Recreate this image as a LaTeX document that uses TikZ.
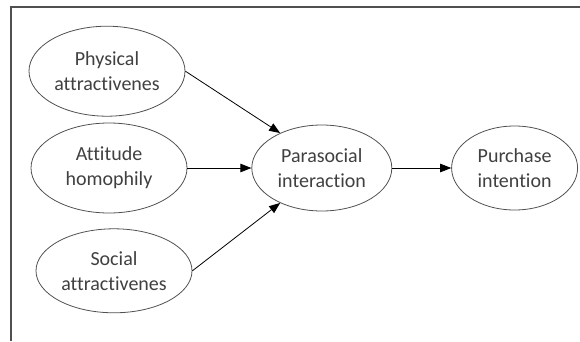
\documentclass[tikz,border=0pt]{standalone}
\usepackage{fontspec}
\setmainfont{Carlito}[Ligatures={NoCommon,NoContextual}]
\usepackage{xcolor}
\usepackage{tikz}
\usetikzlibrary{arrows.meta,positioning,shapes.geometric}
\definecolor{textgray}{RGB}{64,64,64}
\definecolor{linegray}{RGB}{80,80,80}

\begin{document}
\begin{tikzpicture}[
  x=1pt, y=1pt,
  node distance=6pt and 64pt,
  oval/.style={ellipse, draw=linegray, line width=0.8pt, inner sep=0pt, minimum width=156pt, minimum height=90pt, align=center, text=textgray, font=\fontsize{20}{25}\selectfont},
  arrow/.style={-{Triangle[length=11pt,width=8.5pt]}, line width=0.8pt, black},
  frame/.style={draw=linegray, line width=1.6pt}
]
\useasboundingbox (0,0) rectangle (580,341);
\draw[frame] (11,0) |- (580,334);

\node[oval] (att) at (109,173) {Attitude\\ homophily};
\node[oval, above=of att, xshift=-2pt] (phys) {Physical\\ attractivenes};
\node[oval, below=15pt of att, xshift=5pt, minimum height=84pt] (soc) {Social\\ attractivenes};
\node[oval, right=of att, minimum width=140pt, minimum height=86pt] (para) {Parasocial\\ interaction};
\node[oval, right=59pt of para, minimum width=126pt, minimum height=84pt] (purch) {Purchase\\ intention};

\draw[arrow] (phys.east) -- (para.140);
\draw[arrow] (att) -- (para);
\draw[arrow] (soc.east) -- (para.220);
\draw[arrow] (para) -- (purch);
\end{tikzpicture}
\end{document}
